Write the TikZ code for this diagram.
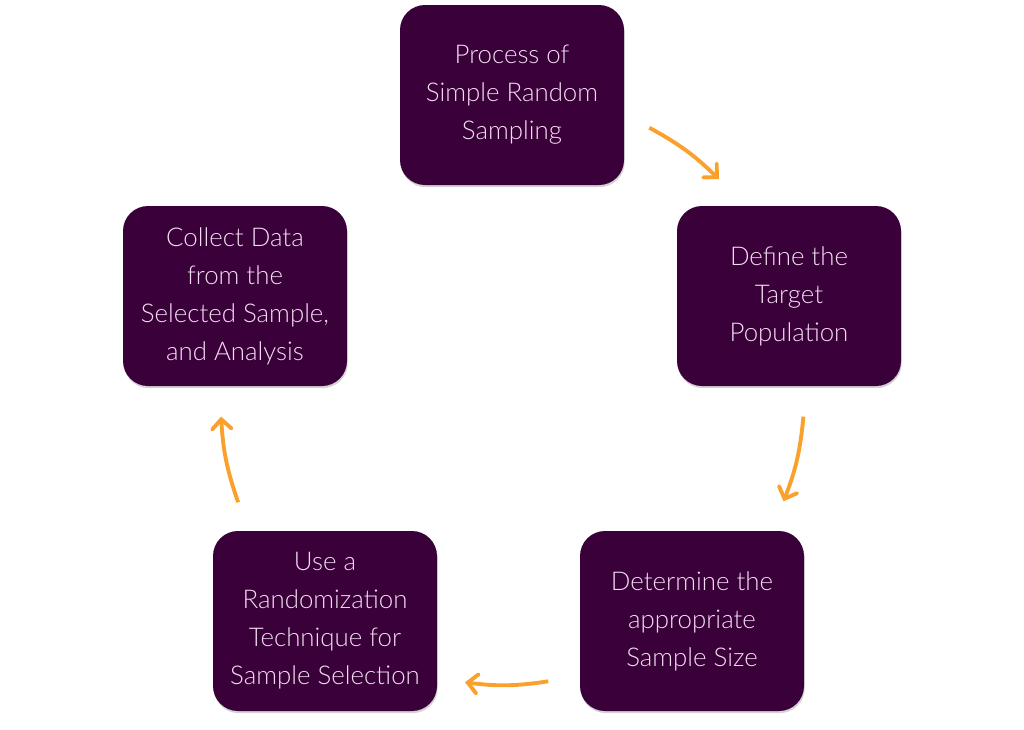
\documentclass[tikz,border=0pt]{standalone}
\usepackage{fontspec}
\setmainfont{Lato}[UprightFont=* Light]
\usepackage{tikz}
\usetikzlibrary{arrows.meta, calc, positioning, shadows}

\definecolor{plum}{HTML}{3A0039}
\definecolor{petal}{HTML}{F2DDF0}
\definecolor{amber}{HTML}{F9A12C}

\tikzset{
    stagebox/.style={draw=none, fill=plum, rounded corners=0.5cm, minimum width=4.48cm, minimum height=3.6cm,
        align=center, text=petal, font=\fontsize{14.7}{21.6}\selectfont,
        drop shadow={opacity=0.35, shadow xshift=0.4pt, shadow yshift=-1.2pt}},
    flow/.style={amber, line width=2.2pt, -{Straight Barb[length=5.5pt, width=11pt, line cap=round]}}
}

\begin{document}
\begin{tikzpicture}
    \useasboundingbox (0,0) rectangle (20.48,-14.6);

    % Stages of the cycle
    \node [stagebox] (proc) at (10.24,-1.9) {Process of\\Simple Random\\Sampling};
    \node [stagebox] (target) at (15.78,-5.92) {Define the\\Target\\Population};
    \node [stagebox] (size) at (13.84,-12.42) {Determine the\\appropriate\\Sample Size};
    \node [stagebox] (random) at (6.5,-12.42) {Use a\\Randomization\\Technique for\\Sample Selection};
    \node [stagebox] (collect) at (4.7,-5.92) {Collect Data\\from the\\Selected Sample,\\and Analysis};

    % Arc ends around the middle of the cycle
    \coordinate (hub) at (10.24,-7.72);
    \coordinate (proc_out) at ($(hub)+(62:5.85)$);
    \coordinate (target_in) at ($(hub)+(45:5.85)$);
    \coordinate (target_out) at ($(hub)+(-6:5.86)$);
    \coordinate (size_in) at ($(hub)+(-23:5.9)$);
    \coordinate (size_out) at ($(hub)+(-83:5.95)$);
    \coordinate (random_in) at ($(hub)+(-99:6.0)$);
    \coordinate (random_out) at ($(hub)+(203:5.95)$);
    \coordinate (collect_in) at ($(hub)+(186:5.85)$);

    % Connections
    \draw [flow] (proc_out) to[bend left=8] (target_in);
    \draw [flow] (target_out) to[bend left=8] (size_in);
    \draw [flow] (size_out) to[bend left=8] (random_in);
    \draw [flow] (random_out) to[bend left=8] (collect_in);

\end{tikzpicture}
\end{document}
